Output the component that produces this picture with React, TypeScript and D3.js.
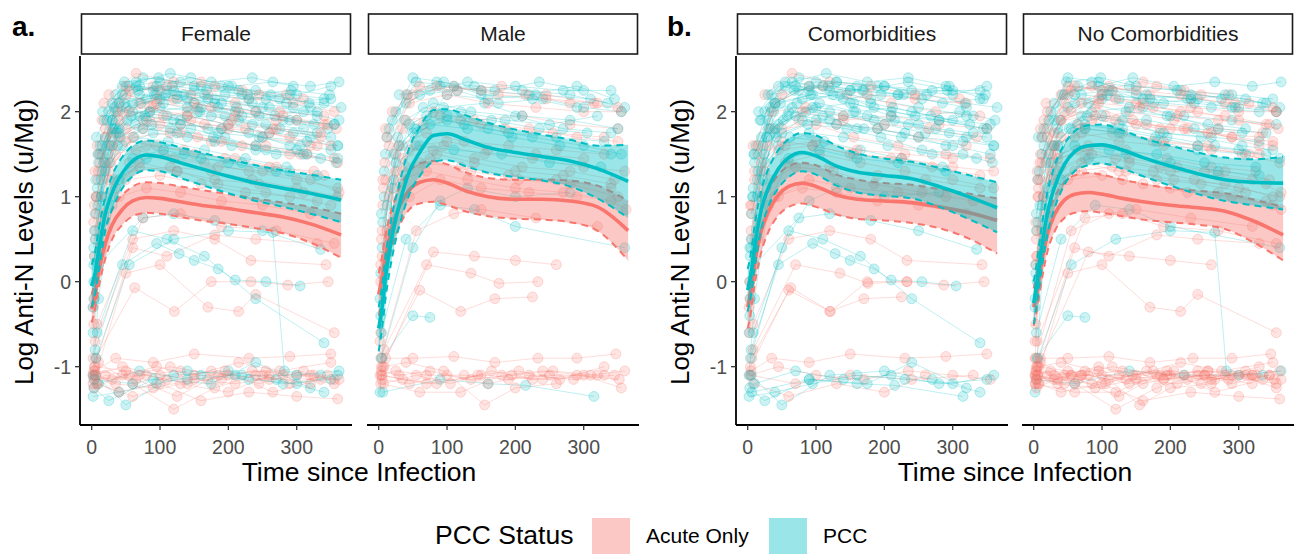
import React from 'react';
import * as d3 from 'd3';

const RED = '#F8766D';
const CYAN = '#00BFC4';
const FONT = '"Liberation Sans", Arial, Helvetica, sans-serif';

// ---- individual trajectories: flat [day, value, day, value, ...] ----
// PCC, female, comorbidities
const pccFC: number[][] = [
  [4,0.3, 22,1.6, 48,2.1, 95,2.2, 150,2.1, 210,2.0, 280,1.9, 345,1.8],
  [8,1.1, 30,1.9, 70,2.3, 120,2.25, 180,2.15, 250,2.05, 330,1.95],
  [2,-0.6, 15,1.0, 40,1.8, 85,2.0, 140,1.95, 200,1.85, 260,1.75, 320,1.7, 360,1.6],
  [12,1.6, 35,2.2, 75,2.4, 130,2.35, 190,2.3, 240,2.25, 300,2.2, 350,2.3],
  [6,0.8, 28,1.7, 60,2.0, 110,1.95, 170,1.8, 230,1.75, 290,1.6],
  [18,1.9, 55,2.3, 100,2.35, 160,2.3, 220,2.2, 285,2.1, 340,2.15],
  [3,0.0, 20,1.3, 45,1.6, 90,1.75, 140,1.7, 205,1.6, 270,1.5, 335,1.45],
  [10,1.4, 38,2.0, 80,2.15, 135,2.2, 185,2.05, 245,1.95, 310,2.0, 362,1.9],
  [25,2.0, 65,2.35, 115,2.45, 175,2.35, 235,2.4, 295,2.3],
  [5,0.5, 24,1.5, 52,1.9, 100,2.05, 155,2.0, 215,1.9, 275,1.8, 330,1.75],
  [14,1.2, 42,1.7, 88,1.85, 145,1.8, 195,1.7, 255,1.55, 315,1.5, 358,1.4],
  [30,1.8, 72,2.1, 125,2.2, 180,2.1, 240,2.0, 300,1.9, 355,1.85],
  [7,1.0, 33,2.05, 68,2.25, 118,2.3, 168,2.25, 228,2.2, 292,2.25, 348,2.2],
  [20,1.7, 58,1.95, 105,2.1, 158,2.0, 212,2.05, 268,1.95, 325,1.85],
  [4,-0.2, 26,1.4, 62,1.7, 112,1.65, 165,1.55, 225,1.45, 285,1.35],
  [40,2.1, 92,2.2, 150,2.25, 200,2.3, 262,2.2, 318,2.1, 365,2.05],
  [3,0.4, 15,1.3, 40,1.75, 80,1.9, 130,1.85, 190,1.8, 250,1.7, 315,1.65, 360,1.6],
  [9,1.5, 32,1.8, 70,1.95, 120,1.9, 175,1.95, 235,1.85, 295,1.75, 350,1.7],
  [2,-1.1, 10,-0.2, 30,0.9, 60,1.45, 105,1.55, 160,1.45, 220,1.4, 290,1.3],
  [16,2.0, 45,2.3, 90,2.25, 140,2.15, 195,2.2, 255,2.15, 320,2.05],
  [5,-0.8, 45,0.2, 95,0.45, 128,0.33, 150,0.25, 185,0.15, 210,0.02, 255,0.0, 305,-0.05],
  [8,-0.6, 60,0.6, 110,0.5, 165,0.3, 240,-0.2, 340,-0.72],
  [10,0.2, 75,0.75, 120,0.8, 180,0.72, 250,0.6, 335,0.38],
  [2,-1.35, 40,-1.3, 95,-1.2, 160,-1.1, 230,-1.15, 300,-1.2, 360,-1.1],
  [5,-1.1, 50,-1.45, 120,-1.1, 200,-1.05, 270,-1.15, 340,-1.3],
  [10,-1.2, 70,-1.05, 140,-1.15, 210,-1.1, 280,-1.2, 350,-1.15],
  [3,-1.25, 25,-1.4, 90,-1.15, 175,-1.2, 240,-0.95, 320,-1.25],
];
// PCC, female, no comorbidities
const pccFN: number[][] = [
  [6,1.2, 30,1.9, 70,2.2, 125,2.15, 190,2.1, 260,2.05, 330,2.0],
  [3,0.2, 18,1.4, 50,2.05, 100,2.15, 160,2.05, 220,1.95, 290,1.9, 355,1.85],
  [15,1.6, 45,2.2, 95,2.3, 145,2.4, 205,2.3, 265,2.35, 320,2.3, 362,2.35],
  [9,0.9, 36,1.75, 78,1.95, 130,1.9, 185,1.75, 245,1.7, 305,1.6, 350,1.55],
  [22,1.9, 60,2.1, 108,2.2, 170,2.15, 235,2.1, 295,2.05],
  [4,0.6, 27,1.6, 64,1.85, 115,1.8, 178,1.7, 240,1.6, 300,1.55, 360,1.45],
  [12,1.5, 48,2.35, 98,2.4, 150,2.3, 215,2.25, 275,2.15, 340,2.1],
  [35,1.8, 85,2.0, 140,2.05, 195,1.95, 255,1.85, 310,1.8],
  [5,0.0, 40,1.2, 80,1.45, 135,1.5, 200,1.4, 270,1.3, 330,1.25],
  [2,-0.3, 14,1.0, 38,1.6, 75,1.8, 125,1.75, 180,1.65, 240,1.55, 310,1.5],
  [7,1.7, 30,2.1, 65,2.3, 110,2.25, 165,2.2, 230,2.15, 290,2.2, 350,2.15],
  [6,-0.9, 55,0.2, 120,0.5, 200,0.6, 265,0.58, 282,-1.05, 335,-1.1],
  [4,-1.15, 60,-1.2, 140,-1.05, 220,-1.1, 300,-1.1, 362,-1.05],
];
// PCC, male, comorbidities
const pccMC: number[][] = [
  [10,1.5, 40,2.1, 90,2.3, 150,2.25, 220,2.2, 290,2.3, 345,2.15],
  [5,0.4, 28,1.7, 65,2.05, 120,2.0, 185,1.9, 250,1.85, 320,1.95],
  [20,1.9, 55,2.35, 110,2.3, 170,2.25, 235,2.35, 300,2.25],
  [3,-0.4, 22,1.2, 50,1.75, 100,1.9, 160,1.8, 225,1.7, 300,1.6, 355,1.5],
  [30,2.2, 75,2.25, 130,2.35, 200,2.3, 270,2.25, 340,2.25],
  [8,1.0, 45,1.85, 95,2.05, 155,2.1, 210,1.95, 280,1.9, 350,1.8],
  [4,-0.9, 50,0.4, 90,0.95, 130,1.1, 200,1.0, 280,1.05],
  [6,-1.3, 90,-1.15, 160,-1.2, 215,-1.22, 315,-1.35],
];
// PCC, male, no comorbidities
const pccMN: number[][] = [
  [2,-1.3, 20,1.1, 55,1.8, 100,2.2, 160,2.15, 230,2.2, 310,2.15, 360,2.05],
  [12,1.7, 42,2.2, 85,2.35, 140,2.3, 210,2.25, 280,2.2, 335,2.1],
  [6,0.7, 30,1.6, 70,1.95, 125,1.85, 190,1.75, 260,1.7, 330,1.65],
  [25,2.0, 60,2.2, 115,2.25, 175,2.1, 240,2.15, 300,2.05, 355,2.0],
  [8,1.3, 38,1.9, 80,2.1, 135,2.0, 200,1.95, 270,1.8, 340,1.75],
  [15,1.8, 50,2.4, 95,2.35, 150,2.2, 225,2.15, 290,2.05],
  [3,0.1, 25,1.4, 60,1.6, 110,1.55, 180,1.5, 250,1.4, 325,1.35],
  [4,0.8, 22,1.5, 52,1.8, 100,1.95, 165,1.9, 235,1.8, 305,1.75],
  [2,-0.2, 12,0.9, 35,1.6, 75,1.85, 130,1.8, 195,1.7, 265,1.6, 340,1.5],
  [5,-0.9, 50,-0.4, 75,-0.42],
  [4,-0.6, 40,0.5, 90,0.9, 140,0.85, 200,0.65, 360,0.4],
];
// Acute only, female, comorbidities
const acuFC: number[][] = [
  [5,0.8, 30,1.6, 75,1.9, 130,1.85, 190,1.8, 250,1.7, 320,1.6],
  [3,-0.2, 20,1.0, 55,1.4, 105,1.5, 165,1.4, 230,1.3, 300,1.2, 360,1.1],
  [10,1.3, 40,2.1, 90,2.3, 145,2.2, 210,2.1, 275,2.0, 340,1.95],
  [15,1.5, 50,1.8, 100,1.85, 155,1.7, 220,1.6, 290,1.5, 355,1.45],
  [6,0.5, 32,1.2, 70,1.35, 125,1.3, 185,1.15, 255,1.05, 330,0.95],
  [25,2.2, 65,2.45, 120,2.35, 180,2.3, 245,2.2, 310,2.15],
  [4,0.9, 20,1.4, 50,1.65, 95,1.6, 150,1.5, 210,1.45, 270,1.35, 340,1.25],
  [8,1.6, 35,2.0, 85,2.05, 140,1.95, 200,1.85, 265,1.8, 335,1.7],
  [2,-0.3, 15,0.7, 40,1.0, 80,1.1, 130,1.05, 190,0.95, 250,0.9, 320,0.8],
  [6,-0.9, 63,-0.07, 121,-0.35, 175,0.0, 233,0.0, 287,-0.04, 346,0.0],
  [8,-0.5, 60,0.5, 120,0.6, 180,0.5, 233,0.25, 343,0.2],
  [3,-1.1, 45,-1.0, 100,-1.1, 170,-1.15, 235,-1.05, 300,-1.1, 355,-1.15],
  [8,-1.2, 60,-1.35, 130,-1.2, 200,-1.3, 260,-1.1],
  [5,-1.05, 35,-0.9, 90,-0.95, 150,-0.85, 230,-0.9, 290,-0.88, 350,-0.85],
];
// Acute only, female, no comorbidities
const acuFN: number[][] = [
  [4,0.3, 25,1.3, 60,1.7, 115,1.75, 175,1.65, 240,1.6, 305,1.5, 360,1.4],
  [12,1.4, 45,2.0, 95,2.15, 150,2.1, 215,2.0, 280,1.95, 345,1.85],
  [7,1.0, 35,1.5, 80,1.6, 135,1.55, 195,1.45, 260,1.35, 325,1.3],
  [20,1.8, 55,2.25, 110,2.3, 170,2.2, 230,2.15, 295,2.1, 355,2.0],
  [3,-0.5, 18,0.8, 50,1.2, 100,1.25, 160,1.15, 225,1.05, 290,1.0, 350,0.9],
  [9,1.2, 40,1.7, 85,1.9, 140,2.0, 205,1.9, 270,1.8, 335,1.75],
  [30,1.6, 75,1.8, 130,1.75, 190,1.65, 255,1.6, 315,1.5],
  [5,0.6, 28,1.4, 65,1.55, 120,1.45, 185,1.35, 250,1.3, 320,1.2, 362,1.05],
  [15,1.9, 50,2.3, 100,2.25, 160,2.35, 220,2.25, 285,2.2],
  [3,0.7, 20,1.7, 55,2.0, 105,1.95, 165,1.85, 225,1.8, 290,1.7, 350,1.6],
  [10,1.5, 40,1.9, 90,2.05, 145,1.9, 200,1.8, 260,1.75, 330,1.6],
  [6,1.0, 25,1.2, 60,1.3, 115,1.35, 175,1.3, 235,1.2, 300,1.1, 360,1.0],
  [2,-0.9, 12,0.4, 35,1.1, 70,1.4, 125,1.3, 180,1.2, 245,1.15, 310,1.05],
  [18,2.1, 50,2.2, 95,2.1, 155,2.05, 210,1.95, 270,1.9, 340,1.85],
  [5,1.3, 30,1.75, 70,2.1, 120,2.15, 175,2.05, 240,2.0, 300,1.9, 358,1.8],
  [4,-1.0, 60,0.4, 110,0.3, 180,0.55, 240,0.5, 330,0.45],
  [5,-0.7, 75,0.75, 130,0.8, 190,0.65, 270,0.6, 355,0.45],
  [6,-1.1, 50,0.1, 100,0.2, 170,-0.3, 215,-0.35, 240,-0.15, 355,-0.6],
  [2,-1.1, 30,-1.15, 80,-1.1, 140,-1.2, 200,-1.1, 260,-1.15, 320,-1.1, 362,-1.15],
  [5,-1.0, 50,-1.05, 110,-1.15, 175,-1.05, 245,-1.2, 310,-1.05],
  [8,-1.2, 40,-1.3, 100,-1.2, 160,-1.4, 230,-1.3, 300,-1.35, 360,-1.38],
  [3,-1.15, 70,-1.1, 130,-1.05, 190,-1.15, 250,-1.1, 290,-1.2, 345,-1.1],
  [10,-0.95, 60,-1.2, 120,-1.5, 180,-1.25, 240,-1.1, 320,-1.2],
  [4,-1.25, 45,-1.1, 95,-1.0, 150,-1.1, 215,-0.95, 275,-1.05, 350,-0.95],
  [3,-1.05, 55,-1.1, 115,-1.0, 185,-1.1, 255,-1.05, 325,-1.1],
  [6,-1.1, 35,-1.2, 90,-1.25, 150,-1.15, 210,-1.2, 280,-1.1, 355,-1.2],
  [2,-1.2, 20,-1.1, 65,-1.15, 125,-1.35, 195,-1.05, 265,-1.3, 335,-1.15],
];
// Acute only, male, comorbidities
const acuMC: number[][] = [
  [6,0.9, 35,1.8, 80,2.0, 140,1.9, 210,1.95, 280,1.85, 350,1.8],
  [15,1.6, 50,2.2, 110,2.3, 175,2.2, 245,2.15, 320,2.1],
  [3,0.0, 22,1.1, 60,1.4, 120,1.35, 190,1.25, 260,1.2, 340,1.1],
  [10,1.2, 45,1.55, 95,1.6, 155,1.5, 225,1.45, 300,1.35, 360,1.3],
  [5,0.6, 25,1.3, 55,1.6, 100,1.65, 160,1.55, 230,1.5, 300,1.45],
  [3,-0.6, 15,0.5, 45,1.0, 90,1.2, 150,1.1, 220,1.05, 290,1.0],
  [5,-1.1, 70,-1.2, 150,-1.1, 240,-1.15, 330,-1.1],
  [4,-1.0, 60,-0.1, 120,-0.35, 170,-0.2, 225,-0.18],
  [8,-0.8, 70,0.2, 135,0.1, 176,-0.02, 233,0.0],
];
// Acute only, male, no comorbidities
const acuMN: number[][] = [
  [4,0.5, 25,1.5, 65,1.85, 120,1.9, 185,1.8, 255,1.75, 330,1.7],
  [12,1.7, 45,2.1, 100,2.2, 160,2.1, 230,2.05, 300,2.0, 355,2.0],
  [7,1.1, 35,1.45, 80,1.55, 140,1.45, 210,1.35, 280,1.3, 345,1.2],
  [20,2.0, 60,2.3, 115,2.25, 180,2.3, 245,2.2, 315,2.1],
  [5,0.3, 30,1.2, 70,1.3, 130,1.2, 200,1.1, 270,1.05, 340,0.95, 362,0.85],
  [9,1.4, 40,1.9, 90,1.95, 150,1.85, 220,1.8, 290,1.7, 350,1.65],
  [3,0.2, 15,1.0, 40,1.35, 85,1.5, 140,1.4, 200,1.3, 270,1.25, 340,1.15],
  [6,1.2, 30,1.6, 70,1.75, 125,1.65, 190,1.6, 260,1.55, 330,1.5],
  [2,-0.7, 12,0.6, 35,1.3, 75,1.45, 135,1.3, 205,1.2, 280,1.15, 350,1.0],
  [10,1.8, 40,2.2, 85,2.3, 150,2.25, 215,2.2, 280,2.1, 350,2.05],
  [3,-0.9, 55,0.6, 110,0.8, 150,0.85, 230,0.75, 320,0.65],
  [6,-1.0, 80,0.35, 140,0.3, 200,0.25, 260,0.2],
  [2,-1.1, 25,-1.05, 70,-1.1, 125,-1.1, 190,-1.15, 250,-1.1, 310,-1.1, 360,-1.05],
  [5,-1.15, 45,-1.2, 100,-1.1, 160,-1.2, 220,-1.1, 285,-1.15, 345,-1.1],
  [8,-1.0, 40,-0.95, 95,-1.05, 155,-1.45, 200,-1.25, 260,-1.2],
  [3,-1.2, 60,-1.3, 120,-1.3, 180,-1.1, 240,-1.05, 300,-1.1, 355,-1.25],
  [10,-0.9, 50,-0.9, 110,-0.88, 170,-0.95, 233,-0.9, 290,-0.9, 347,-0.85],
  [4,-1.1, 35,-1.15, 85,-1.2, 145,-1.1, 205,-1.05, 265,-1.15, 330,-1.0],
  [4,-1.05, 30,-1.1, 75,-1.05, 135,-1.15, 195,-1.1, 255,-1.05, 320,-1.1],
  [7,-1.2, 55,-1.1, 105,-1.2, 165,-1.05, 225,-1.15, 290,-1.1, 352,-1.15],
];

// ---- smoothed fits (mean, lower, upper) at fitT ----
const fitT = [0, 5, 10, 20, 30, 45, 60, 80, 100, 130, 160, 200, 240, 280, 320, 365];

const femPccMean = [-0.05, 0.1, 0.35, 0.8, 1.05, 1.28, 1.42, 1.49, 1.47, 1.4, 1.33, 1.24, 1.16, 1.1, 1.04, 0.96];
const femPccHi   = [0.2, 0.35, 0.6, 1.0, 1.25, 1.47, 1.6, 1.66, 1.64, 1.58, 1.52, 1.44, 1.37, 1.31, 1.26, 1.2];
const femPccLo   = [-0.3, -0.15, 0.1, 0.6, 0.85, 1.1, 1.24, 1.31, 1.3, 1.22, 1.14, 1.04, 0.95, 0.88, 0.8, 0.7];
const femAcuMean = [-0.32, -0.15, 0.1, 0.45, 0.67, 0.85, 0.95, 0.99, 0.98, 0.94, 0.9, 0.86, 0.81, 0.76, 0.68, 0.55];
const femAcuHi   = [-0.15, 0.02, 0.28, 0.63, 0.85, 1.02, 1.12, 1.17, 1.16, 1.12, 1.08, 1.03, 0.98, 0.93, 0.88, 0.8];
const femAcuLo   = [-0.48, -0.32, -0.08, 0.27, 0.5, 0.67, 0.77, 0.81, 0.8, 0.76, 0.72, 0.68, 0.63, 0.57, 0.46, 0.28];

const malPccMean = [-0.55, -0.3, 0.05, 0.55, 0.9, 1.3, 1.52, 1.72, 1.74, 1.66, 1.58, 1.52, 1.47, 1.42, 1.33, 1.18];
const malPccHi   = [-0.3, -0.05, 0.3, 0.8, 1.15, 1.58, 1.82, 2.02, 2.03, 1.95, 1.87, 1.79, 1.73, 1.67, 1.6, 1.61];
const malPccLo   = [-0.82, -0.55, -0.2, 0.3, 0.65, 1.03, 1.24, 1.41, 1.43, 1.35, 1.28, 1.23, 1.19, 1.12, 0.98, 0.75];
const malAcuMean = [-0.15, 0.05, 0.3, 0.65, 0.88, 1.08, 1.17, 1.2, 1.16, 1.06, 1.0, 0.97, 0.97, 0.95, 0.88, 0.6];
const malAcuHi   = [0.1, 0.3, 0.55, 0.88, 1.1, 1.3, 1.39, 1.42, 1.38, 1.28, 1.22, 1.2, 1.2, 1.19, 1.13, 0.95];
const malAcuLo   = [-0.4, -0.2, 0.05, 0.42, 0.65, 0.85, 0.92, 0.94, 0.9, 0.82, 0.77, 0.74, 0.73, 0.7, 0.6, 0.25];

const comPccMean = [-0.1, 0.1, 0.4, 0.85, 1.1, 1.33, 1.46, 1.52, 1.48, 1.36, 1.29, 1.25, 1.21, 1.12, 1.01, 0.87];
const comPccHi   = [0.15, 0.35, 0.65, 1.08, 1.32, 1.55, 1.68, 1.75, 1.72, 1.6, 1.51, 1.45, 1.41, 1.34, 1.26, 1.17];
const comPccLo   = [-0.35, -0.15, 0.15, 0.62, 0.88, 1.1, 1.23, 1.3, 1.26, 1.13, 1.05, 1.01, 0.98, 0.88, 0.75, 0.58];
const comAcuMean = [-0.3, -0.1, 0.2, 0.6, 0.82, 1.02, 1.12, 1.16, 1.12, 1.02, 0.97, 0.95, 0.93, 0.88, 0.82, 0.72];
const comAcuHi   = [-0.05, 0.15, 0.45, 0.85, 1.06, 1.26, 1.36, 1.4, 1.37, 1.26, 1.2, 1.16, 1.14, 1.09, 1.04, 0.98];
const comAcuLo   = [-0.55, -0.35, -0.05, 0.35, 0.58, 0.78, 0.88, 0.92, 0.88, 0.79, 0.74, 0.72, 0.69, 0.63, 0.52, 0.33];

const nocPccMean = [-0.25, 0.0, 0.3, 0.8, 1.1, 1.38, 1.53, 1.6, 1.61, 1.55, 1.46, 1.36, 1.27, 1.2, 1.17, 1.16];
const nocPccHi   = [0.0, 0.25, 0.55, 1.05, 1.35, 1.62, 1.77, 1.84, 1.85, 1.78, 1.69, 1.6, 1.52, 1.46, 1.44, 1.47];
const nocPccLo   = [-0.5, -0.25, 0.05, 0.55, 0.85, 1.14, 1.3, 1.37, 1.39, 1.33, 1.24, 1.13, 1.03, 0.95, 0.9, 0.85];
const nocAcuMean = [-0.3, -0.1, 0.15, 0.55, 0.78, 0.96, 1.03, 1.05, 1.03, 0.98, 0.94, 0.9, 0.87, 0.83, 0.72, 0.55];
const nocAcuHi   = [-0.08, 0.12, 0.37, 0.75, 0.98, 1.17, 1.25, 1.28, 1.26, 1.2, 1.15, 1.1, 1.07, 1.04, 0.97, 0.88];
const nocAcuLo   = [-0.52, -0.32, -0.07, 0.35, 0.58, 0.75, 0.81, 0.83, 0.81, 0.77, 0.73, 0.7, 0.67, 0.62, 0.47, 0.25];

const xTicks = [0, 100, 200, 300];
const yTicks = [-1, 0, 1, 2];
const legendLabels = ['Acute Only', 'PCC'];

type Fit = { mean: number[]; lo: number[]; hi: number[] };
type Panel = {
  strip: string; r0: number; r1: number; yAxis: boolean;
  pcc: number[][]; acu: number[][]; pccFit: Fit; acuFit: Fit;
};

const panels: Panel[] = [
  { strip: 'Female', r0: 80, r1: 352, yAxis: true, pcc: [...pccFC, ...pccFN], acu: [...acuFC, ...acuFN],
    pccFit: { mean: femPccMean, lo: femPccLo, hi: femPccHi }, acuFit: { mean: femAcuMean, lo: femAcuLo, hi: femAcuHi } },
  { strip: 'Male', r0: 367, r1: 639, yAxis: false, pcc: [...pccMC, ...pccMN], acu: [...acuMC, ...acuMN],
    pccFit: { mean: malPccMean, lo: malPccLo, hi: malPccHi }, acuFit: { mean: malAcuMean, lo: malAcuLo, hi: malAcuHi } },
  { strip: 'Comorbidities', r0: 736, r1: 1008, yAxis: true, pcc: [...pccFC, ...pccMC], acu: [...acuFC, ...acuMC],
    pccFit: { mean: comPccMean, lo: comPccLo, hi: comPccHi }, acuFit: { mean: comAcuMean, lo: comAcuLo, hi: comAcuHi } },
  { strip: 'No Comorbidities', r0: 1022, r1: 1294, yAxis: false, pcc: [...pccFN, ...pccMN], acu: [...acuFN, ...acuMN],
    pccFit: { mean: nocPccMean, lo: nocPccLo, hi: nocPccHi }, acuFit: { mean: nocAcuMean, lo: nocAcuLo, hi: nocAcuHi } },
];

const Y_TOP = 56, Y_BOT = 425;
const y = d3.scaleLinear().domain([-1.686, 2.655]).range([Y_BOT, Y_TOP]);

function pairs(flat: number[]): [number, number][] {
  const out: [number, number][] = [];
  for (let i = 0; i < flat.length; i += 2) out.push([flat[i], flat[i + 1]]);
  return out;
}

// interleave subjects of both groups so that neither colour sits entirely on top
function interleave(acu: number[][], pcc: number[][]) {
  const out: { t: number[]; color: string }[] = [];
  const n = Math.max(acu.length, pcc.length);
  for (let i = 0; i < n; i++) {
    if (i < pcc.length) out.push({ t: pcc[i], color: CYAN });
    if (i < acu.length) out.push({ t: acu[i], color: RED });
  }
  return out;
}

function PanelView({ p, idx }: { p: Panel; idx: number }) {
  const x = d3.scaleLinear().domain([-17.1, 380.9]).range([p.r0, p.r1]);
  const line = d3.line<[number, number]>().x(d => x(d[0])).y(d => y(d[1]));
  const smooth = d3.line<number>().x((_, i) => x(fitT[i])).y(d => y(d)).curve(d3.curveMonotoneX);

  const ribbon = (f: Fit) => d3.area<number>()
    .x((_, i) => x(fitT[i]))
    .y0((_, i) => y(f.lo[i]))
    .y1((_, i) => y(f.hi[i]))
    .curve(d3.curveMonotoneX)(f.mean) || '';

  const subjects = interleave(p.acu, p.pcc);

  const fitGroup = (f: Fit, color: string, key: string) => (
    <g key={key}>
      <path d={ribbon(f)} fill={color} fillOpacity={0.4} stroke="none" />
      <path d={smooth(f.lo) || ''} fill="none" stroke={color} strokeWidth={2} strokeDasharray="7,5" />
      <path d={smooth(f.hi) || ''} fill="none" stroke={color} strokeWidth={2} strokeDasharray="7,5" />
      <path d={smooth(f.mean) || ''} fill="none" stroke={color} strokeWidth={3.6} />
    </g>
  );

  const clipId = 'clip' + idx;
  return (
    <g>
      <defs>
        <clipPath id={clipId}>
          <rect x={p.r0} y={Y_TOP} width={p.r1 - p.r0} height={Y_BOT - Y_TOP} />
        </clipPath>
      </defs>
      <rect x={p.r0 + 1.5} y={14} width={p.r1 - p.r0 - 3} height={40} fill="#fff" stroke="#1a1a1a" strokeWidth={1.6} />
      <text x={(p.r0 + p.r1) / 2} y={34} dy="0.35em" textAnchor="middle" fontSize={21} fill="#1a1a1a" fontFamily={FONT}>{p.strip}</text>
      <g clipPath={`url(#${clipId})`}>
        {subjects.map((s, i) => (
          <path key={'l' + i} d={line(pairs(s.t)) || ''} fill="none" stroke={s.color} strokeOpacity={0.25} strokeWidth={1} />
        ))}
        {subjects.map((s, i) => pairs(s.t).map((pt, j) => (
          <circle key={'c' + i + '-' + j} cx={x(pt[0])} cy={y(pt[1])} r={5}
            fill={s.color} fillOpacity={0.2} stroke={s.color} strokeOpacity={0.25} strokeWidth={1} />
        )))}
        {fitGroup(p.acuFit, RED, 'fa')}
        {fitGroup(p.pccFit, CYAN, 'fp')}
      </g>
      <line x1={p.r0} x2={p.r1} y1={Y_BOT} y2={Y_BOT} stroke="#000" strokeWidth={1.8} />
      {xTicks.map(t => (
        <g key={t}>
          <line x1={x(t)} x2={x(t)} y1={Y_BOT} y2={Y_BOT + 5} stroke="#333" strokeWidth={1.3} />
          <text x={x(t)} y={Y_BOT + 22} dy="0.35em" textAnchor="middle" fontSize={19.5} fill="#4d4d4d" fontFamily={FONT}>{t}</text>
        </g>
      ))}
      {p.yAxis && (
        <g>
          <line x1={p.r0} x2={p.r0} y1={Y_TOP} y2={Y_BOT} stroke="#000" strokeWidth={1.8} />
          {yTicks.map(t => (
            <g key={t}>
              <line x1={p.r0 - 5} x2={p.r0} y1={y(t)} y2={y(t)} stroke="#333" strokeWidth={1.3} />
              <text x={p.r0 - 9} y={y(t)} dy="0.35em" textAnchor="end" fontSize={19.5} fill="#4d4d4d" fontFamily={FONT}>{t}</text>
            </g>
          ))}
        </g>
      )}
    </g>
  );
}

export default function App() {
  return (
    <svg width={1294} height={554} style={{ position: 'absolute', left: 0, top: 0, background: '#fff' }}
      fontFamily={FONT}>
      <rect x={0} y={0} width={1294} height={554} fill="#fff" />
      {panels.map((p, i) => <PanelView key={p.strip} p={p} idx={i} />)}
      <text x={12} y={36} fontSize={28} fontWeight="bold" fill="#000">a.</text>
      <text x={667} y={36} fontSize={28} fontWeight="bold" fill="#000">b.</text>
      {[80, 736].map(x0 => (
        <text key={'yt' + x0} transform={`translate(${x0 - 47},242) rotate(-90)`} textAnchor="middle" fontSize={26} fill="#000">
          Log Anti-N Levels (u/Mg)
        </text>
      ))}
      <text x={359} y={481} textAnchor="middle" fontSize={26.5} fill="#000">Time since Infection</text>
      <text x={1015} y={481} textAnchor="middle" fontSize={26.5} fill="#000">Time since Infection</text>
      <text x={435} y={544} fontSize={26.5} fill="#000">PCC Status</text>
      <rect x={592} y={518} width={38} height={40} fill={RED} fillOpacity={0.4} />
      <text x={646} y={543} fontSize={21} fill="#000">{legendLabels[0]}</text>
      <rect x={769} y={518} width={38} height={40} fill={CYAN} fillOpacity={0.4} />
      <text x={823} y={543} fontSize={21} fill="#000">{legendLabels[1]}</text>
    </svg>
  );
}
